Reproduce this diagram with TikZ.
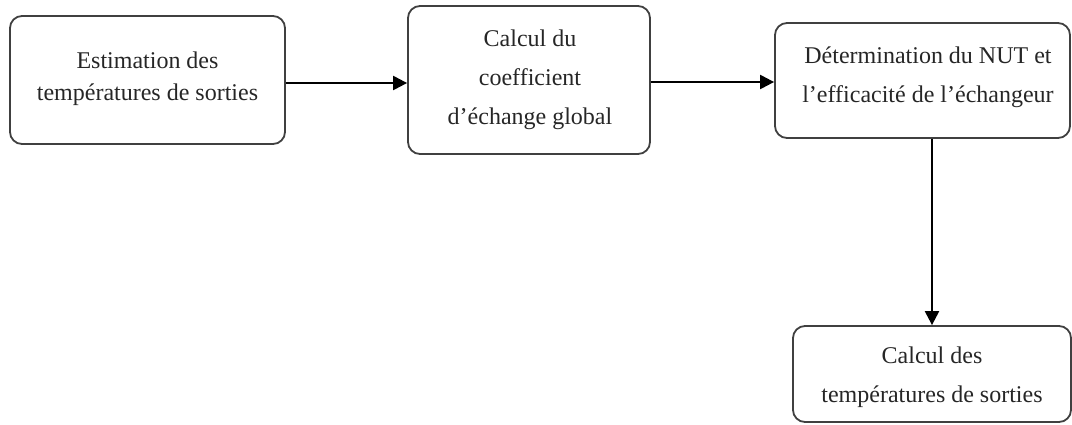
\documentclass[tikz,border=0pt]{standalone}
\usepackage{fontspec}
\setmainfont{Liberation Serif}
\usetikzlibrary{arrows.meta}
\begin{document}
\begin{tikzpicture}[x=1pt,y=-1pt,
  box/.style={draw=black!75, line width=1.8pt, rounded corners=12pt, inner sep=0pt},
  txt/.style={align=center, inner sep=0pt, text=black!85, font=\fontsize{24}{39}\selectfont},
  conn/.style={-{Triangle[length=14pt,width=14pt]}, line width=2.2pt}]
\useasboundingbox (0,0) rectangle (1072,424);
\node[box, minimum width=275pt, minimum height=128pt] (b1) at (147.5,80) {};
\node[box, minimum width=242pt, minimum height=148pt] (b2) at (529,80) {};
\node[box, minimum width=295pt, minimum height=115pt] (b3) at (922.5,80.5) {};
\node[box, minimum width=278pt, minimum height=96pt] (b4) at (932,374) {};
\node[txt, font=\fontsize{24}{32}\selectfont] (t1) at (147.5,79) {Estimation des\\températures de sorties};
\node[txt] (t2) at (530,80) {Calcul du\\coefficient\\d’échange global};
\node[txt] (t3) at (928,77.5) {Détermination du NUT et\\l’efficacité de l’échangeur};
\node[txt] (t4) at (932,377) {Calcul des\\températures de sorties};
\draw[conn] ([yshift=-3pt]b1.east) -- ([yshift=-3pt]b1.east -| b2.west);
\draw[conn] ([yshift=-2pt]b2.east) -- ([yshift=-2pt]b2.east -| b3.west);
\draw[conn] (b4.north |- b3.south) -- (b4.north);
\end{tikzpicture}
\end{document}
